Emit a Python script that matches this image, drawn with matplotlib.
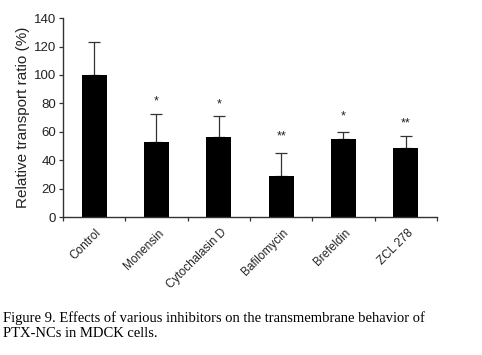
import numpy as np
import matplotlib
matplotlib.use("Agg")
import matplotlib.pyplot as plt

# data
groups = ["Control", "Monensin", "Cytochalasin D", "Bafilomycin", "Brefeldin", "ZCL 278"]
ratio = [100, 52.6, 56.5, 29, 55, 48.4]
err_up = [23, 19.7, 14.5, 16, 5, 8.4]
stars = ["", "*", "*", "**", "*", "**"]
star_y = [None, 81, 79.5, 57, 70.5, 66]

plt.rcParams["font.family"] = ["Liberation Sans", "DejaVu Sans"]

fig = plt.figure(figsize=(4.82, 3.55), dpi=100)
ax = fig.add_axes([0.1307, 0.3887, 0.7759, 0.5603])

x = np.arange(len(groups))
lower = np.zeros(len(groups))
ax.bar(x, ratio, width=0.4, color="black", zorder=2)
ax.errorbar(x, ratio, yerr=[lower, err_up], fmt="none", ecolor="#333333",
            elinewidth=0.9, capsize=4, capthick=0.9, zorder=1)

for xi, s, sy in zip(x, stars, star_y):
    if s:
        ax.text(xi, sy, s, ha="center", va="center", fontsize=9, color="#222222")

ax.set_xlim(-0.5, len(groups) - 0.5)
ax.set_ylim(0, 140)
ax.set_yticks(range(0, 141, 20))
ax.tick_params(axis="y", labelsize=9.5, length=3, width=0.9, color="#333333",
               labelcolor="#222222", pad=2)

# category labels between boundary ticks
ax.set_xticks(np.arange(-0.5, len(groups), 1.0))
ax.set_xticklabels([])
ax.tick_params(axis="x", length=3, width=0.9, color="#333333")
for xi, g in zip(x, groups):
    ax.text(xi + 0.02, -7, g, rotation=45, ha="right", va="top", fontsize=8.5,
            rotation_mode="anchor", color="#222222")

for side in ["top", "right"]:
    ax.spines[side].set_visible(False)
for side in ["left", "bottom"]:
    ax.spines[side].set_color("#333333")
    ax.spines[side].set_linewidth(1.0)

ax.set_ylabel("Relative transport ratio (%)", fontsize=11, labelpad=3, color="#222222")

fig.text(0.006, 0.083, "Figure 9. Effects of various inhibitors on the transmembrane behavior of\nPTX-NCs in MDCK cells.",
         family=["Liberation Serif", "DejaVu Serif"], fontsize=10.5, ha="left", va="center", linespacing=1.15)

fig.savefig("out.png", dpi=100)
